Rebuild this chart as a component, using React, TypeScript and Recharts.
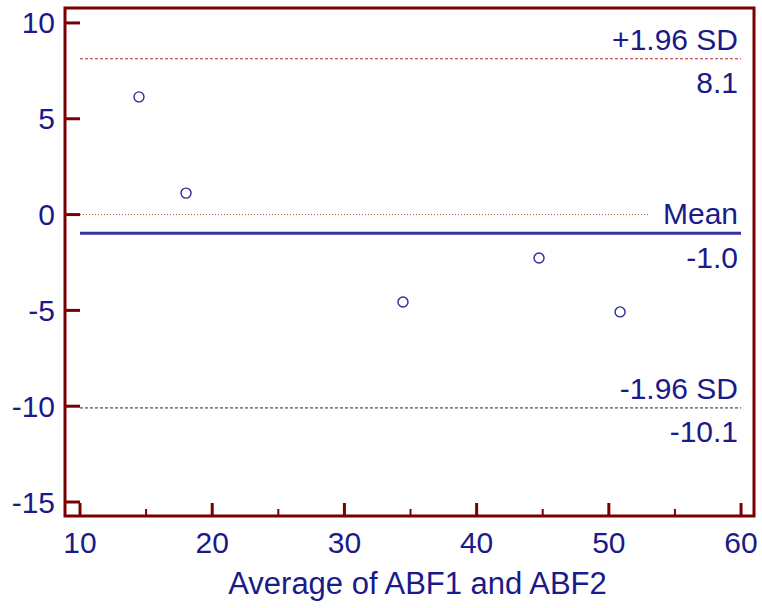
import React from "react";
import { ScatterChart, Scatter, XAxis, YAxis, ReferenceLine, ReferenceArea } from "recharts";

// Bland-Altman: average vs difference
const averages = [14.46, 18.02, 34.43, 44.72, 50.85];
const differences = [6.14, 1.12, -4.56, -2.27, -5.08];

const xTicks = [10, 15, 20, 25, 30, 35, 40, 45, 50, 55, 60];
const yTicks = [10, 5, 0, -5, -10, -15];

const limitNames = ["+1.96 SD", "Mean", "-1.96 SD"];
const limitValues = [8.13, -0.98, -10.09];
const limitTexts = ["8.1", "-1.0", "-10.1"];

const points = averages.map((a, i) => ({ avg: a, diff: differences[i] }));

const NAVY = "#1a1a8a";
const FRAME = "#7a0000";
const FONT = "'Liberation Sans', Arial, sans-serif";

const XTick = (props: any) => {
  const { x, y, payload } = props;
  const major = payload.value % 10 === 0;
  return (
    <g>
      <line x1={x} x2={x} y1={y} y2={y - (major ? 13 : 7)} stroke={FRAME} strokeWidth={major ? 3 : 2} />
      {major && (
        <text x={x} y={y + 37} textAnchor="middle" fill={NAVY} fontSize={30} fontFamily={FONT}>
          {payload.value}
        </text>
      )}
    </g>
  );
};

const YTick = (props: any) => {
  const { x, y, payload } = props;
  return (
    <g>
      <line x1={x} x2={x + 15} y1={y} y2={y} stroke={FRAME} strokeWidth={3} />
      <text x={x - 10} y={y + 10.5} textAnchor="end" fill={NAVY} fontSize={30} fontFamily={FONT}>
        {payload.value}
      </text>
    </g>
  );
};

const XTitle = (props: any) => {
  const vb = props.viewBox;
  return (
    <text x={vb.x + vb.width / 2 + 8} y={vb.y + vb.height - 14} textAnchor="middle" fill={NAVY} fontSize={31} fontFamily={FONT}>
      Average of ABF1 and ABF2
    </text>
  );
};

const limitLabel = (name: string, text: string) => (props: any) => {
  const vb = props.viewBox;
  const right = vb.x + vb.width - 3;
  return (
    <g>
      <text x={right} y={vb.y - 9} textAnchor="end" fill={NAVY} fontSize={30} fontFamily={FONT}>
        {name}
      </text>
      <text x={right} y={vb.y + 34.5} textAnchor="end" fill={NAVY} fontSize={30} fontFamily={FONT}>
        {text}
      </text>
    </g>
  );
};

const lineStyles = [
  { stroke: "#b02828", strokeWidth: 1, strokeDasharray: "3 2" },
  { stroke: "#3333a0", strokeWidth: 3 },
  { stroke: "#4a1a1a", strokeWidth: 1, strokeDasharray: "3 2" },
];

const Dot = (props: any) => (
  <circle cx={props.cx} cy={props.cy} r={5} fill="#fff" stroke="#2a2a9a" strokeWidth={1.4} />
);

export default function App() {
  return (
    <div style={{ position: "absolute", left: 0, top: 0, background: "#fff" }}>
      <ScatterChart width={762} height={608} margin={{ top: 8, right: 8, bottom: 0, left: 0 }}>
        <XAxis
          type="number"
          dataKey="avg"
          domain={[8.865, 60.98]}
          ticks={xTicks}
          interval={0}
          allowDataOverflow
          axisLine={false}
          tickLine={false}
          tickSize={0}
          tickMargin={0}
          tick={<XTick />}
          height={92}
          label={<XTitle />}
        />
        <YAxis
          type="number"
          dataKey="diff"
          domain={[-15.73, 10.78]}
          ticks={yTicks}
          interval={0}
          allowDataOverflow
          axisLine={false}
          tickLine={false}
          tickSize={0}
          tickMargin={0}
          tick={<YTick />}
          width={65}
        />
        <ReferenceArea
          x1={8.865}
          x2={60.98}
          y1={-15.73}
          y2={10.78}
          fill="none"
          fillOpacity={0}
          stroke={FRAME}
          strokeWidth={3}
          ifOverflow="visible"
        />
        <ReferenceLine
          segment={[
            { x: 10, y: 0 },
            { x: 53, y: 0 },
          ]}
          stroke="#b06040"
          strokeWidth={1}
          strokeDasharray="1 2"
        />
        {limitValues.map((v, i) => (
          <ReferenceLine
            key={limitNames[i]}
            segment={[
              { x: 10, y: v },
              { x: 60, y: v },
            ]}
            {...lineStyles[i]}
            label={limitLabel(limitNames[i], limitTexts[i])}
          />
        ))}
        <Scatter data={points} shape={<Dot />} isAnimationActive={false} />
      </ScatterChart>
    </div>
  );
}
